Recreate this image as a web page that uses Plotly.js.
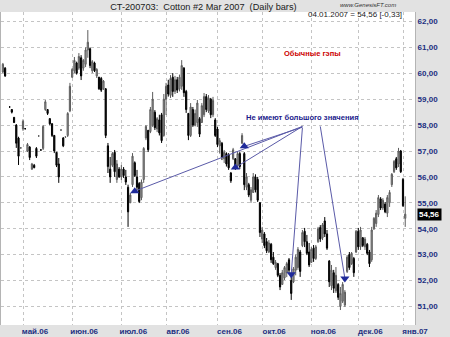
<!DOCTYPE html>
<html><head><meta charset="utf-8">
<script src="https://cdn.plot.ly/plotly-3.0.1.min.js"></script>
<style>html,body{margin:0;padding:0;background:#e2e2e2;}#chart{width:450px;height:337px;}</style>
</head><body><div id="chart"></div>
<script>
const dates = [
'2006-04-18','2006-04-19','2006-04-20','2006-04-21','2006-04-24','2006-04-25','2006-04-26','2006-04-27','2006-04-28',
'2006-05-01','2006-05-02','2006-05-03','2006-05-04','2006-05-05','2006-05-08','2006-05-09','2006-05-10','2006-05-11','2006-05-12','2006-05-15','2006-05-16','2006-05-17','2006-05-18','2006-05-19','2006-05-22','2006-05-23','2006-05-24','2006-05-25','2006-05-26','2006-05-30','2006-05-31',
'2006-06-01','2006-06-02','2006-06-05','2006-06-06','2006-06-07','2006-06-08','2006-06-09','2006-06-12','2006-06-13','2006-06-14','2006-06-15','2006-06-16','2006-06-19','2006-06-20','2006-06-21','2006-06-22','2006-06-23','2006-06-26','2006-06-27','2006-06-28','2006-06-29','2006-06-30',
'2006-07-03','2006-07-05','2006-07-06','2006-07-07','2006-07-10','2006-07-11','2006-07-12','2006-07-13','2006-07-14','2006-07-17','2006-07-18','2006-07-19','2006-07-20','2006-07-21','2006-07-24','2006-07-25','2006-07-26','2006-07-27','2006-07-28','2006-07-31',
'2006-08-01','2006-08-02','2006-08-03','2006-08-04','2006-08-07','2006-08-08','2006-08-09','2006-08-10','2006-08-11','2006-08-14','2006-08-15','2006-08-16','2006-08-17','2006-08-18','2006-08-21','2006-08-22','2006-08-23','2006-08-24','2006-08-25','2006-08-28','2006-08-29','2006-08-30','2006-08-31',
'2006-09-01','2006-09-05','2006-09-06','2006-09-07','2006-09-08','2006-09-11','2006-09-12','2006-09-13','2006-09-14','2006-09-15','2006-09-18','2006-09-19','2006-09-20','2006-09-21','2006-09-22','2006-09-25','2006-09-26','2006-09-27','2006-09-28','2006-09-29',
'2006-10-02','2006-10-03','2006-10-04','2006-10-05','2006-10-06','2006-10-09','2006-10-10','2006-10-11','2006-10-12','2006-10-13','2006-10-16','2006-10-17','2006-10-18','2006-10-19','2006-10-20','2006-10-23','2006-10-24','2006-10-25','2006-10-26','2006-10-27','2006-10-30','2006-10-31',
'2006-11-01','2006-11-02','2006-11-03','2006-11-06','2006-11-07','2006-11-08','2006-11-09','2006-11-10','2006-11-13','2006-11-14','2006-11-15','2006-11-16','2006-11-17','2006-11-20','2006-11-21','2006-11-22','2006-11-24','2006-11-27','2006-11-28','2006-11-29','2006-11-30',
'2006-12-01','2006-12-04','2006-12-05','2006-12-06','2006-12-07','2006-12-08','2006-12-11','2006-12-12','2006-12-13','2006-12-14','2006-12-15','2006-12-18','2006-12-19','2006-12-20','2006-12-21','2006-12-22','2006-12-26','2006-12-27','2006-12-28','2006-12-29',
'2007-01-03','2007-01-04'];

const openPrices = [
60.05,60.20,null,58.70,58.60,58.30,58.00,57.50,57.12,
57.85,57.86,57.00,57.15,56.30,56.45,57.10,57.58,57.04,57.10,58.60,58.60,58.25,58.05,57.60,56.95,56.50,57.81,57.50,57.54,57.60,58.55,
59.85,60.10,60.40,60.20,60.60,60.20,60.35,60.90,60.95,60.10,60.40,59.90,59.85,59.80,59.40,59.40,57.20,56.30,56.45,56.95,55.90,56.30,
56.00,56.30,56.00,55.60,55.00,55.70,56.55,56.00,55.75,55.20,55.90,57.50,57.80,57.75,58.00,58.50,57.85,58.20,58.40,57.60,
59.00,59.55,59.15,59.85,59.30,59.75,59.40,59.50,60.20,59.30,58.45,57.60,58.60,58.00,58.10,58.25,58.10,58.40,59.10,58.55,59.00,58.40,58.20,
57.85,57.20,57.30,56.70,56.90,56.85,56.15,56.70,56.70,56.45,56.90,57.30,56.90,55.60,55.70,55.10,55.40,56.00,55.90,55.00,
53.60,53.80,53.50,53.10,53.40,52.90,52.50,52.65,52.20,51.85,52.10,52.30,52.80,52.00,51.95,52.40,52.50,53.10,53.35,53.90,53.50,53.10,
52.70,53.25,52.85,53.50,54.05,53.65,54.30,53.80,52.75,51.80,52.30,51.60,51.85,51.00,51.20,51.05,52.35,53.00,52.65,52.85,53.10,
53.90,53.30,53.65,53.30,53.40,53.10,52.80,54.00,54.20,54.55,55.15,54.80,54.95,54.60,55.00,55.70,56.20,56.70,56.50,57.00,
55.90,54.40];

const highPrices = [
60.40,60.24,null,58.72,58.62,58.31,58.04,57.55,57.14,
58.22,57.88,57.31,57.19,56.54,56.50,57.15,57.60,57.06,58.00,58.97,58.62,58.27,58.08,57.62,56.96,56.73,57.83,57.54,57.56,58.50,59.63,
60.20,60.63,60.45,60.78,60.70,60.55,61.00,61.67,61.00,60.51,60.45,60.20,59.86,59.86,59.74,59.43,57.31,56.77,56.96,57.04,56.65,56.38,
56.46,56.38,56.27,55.70,55.38,56.92,56.60,56.27,55.80,55.90,57.15,58.00,57.81,58.70,59.28,58.58,58.31,58.40,58.47,59.20,
59.63,59.75,59.93,60.01,59.90,59.86,59.95,60.51,60.24,59.36,58.47,58.85,58.70,58.60,58.97,58.31,58.85,59.24,59.20,59.16,59.05,59.09,58.27,
57.93,57.50,57.35,57.04,56.95,56.92,56.19,57.12,56.73,56.96,56.98,57.69,56.96,56.15,55.77,55.61,56.15,56.10,56.00,55.03,
54.07,53.87,53.64,53.56,53.45,53.10,52.79,52.68,52.29,52.41,52.56,52.72,52.87,52.14,52.52,53.00,53.29,53.18,53.95,54.03,53.76,53.45,
53.29,53.37,53.37,54.07,54.14,54.22,54.45,53.95,52.79,52.60,52.41,52.52,51.90,51.75,51.94,51.63,52.98,53.10,53.10,52.91,53.95,
54.03,54.07,53.68,53.68,53.45,53.18,54.07,54.45,54.72,55.30,55.22,55.18,55.03,55.30,55.49,56.15,56.65,56.77,57.12,57.04,
55.96,55.25];

const lowPrices = [
60.01,59.86,null,58.68,58.45,58.08,57.12,56.46,57.10,
57.78,57.84,56.96,56.65,56.27,56.33,56.73,57.56,57.02,57.04,58.55,58.39,58.00,57.54,56.92,56.38,55.77,57.79,57.15,57.52,57.54,58.50,
59.82,60.01,59.95,60.13,59.74,60.10,60.24,60.60,60.20,60.01,60.05,59.82,59.36,59.28,59.36,57.50,56.15,55.77,56.38,56.00,55.77,55.96,
55.88,55.96,55.69,54.07,54.99,55.61,56.00,55.49,54.99,55.10,55.77,57.42,56.96,57.69,57.93,57.81,57.73,57.60,57.31,57.55,
58.39,59.10,59.05,59.09,59.20,59.24,59.30,59.36,59.09,58.47,57.42,57.54,57.93,57.95,57.93,57.54,58.08,58.31,58.50,58.47,58.27,58.31,57.54,
57.15,56.90,56.65,56.54,56.40,56.27,55.77,56.65,56.27,56.38,56.30,57.27,55.49,55.49,55.22,55.00,55.38,55.40,55.03,53.68,
53.45,53.25,53.06,53.06,52.68,52.60,52.41,52.13,51.63,51.83,52.02,52.13,52.29,51.25,51.90,52.20,52.41,52.14,53.29,53.29,52.98,52.52,
52.68,52.72,52.79,53.45,53.49,53.56,53.68,53.18,51.75,51.63,51.52,51.52,51.25,50.86,51.13,50.98,52.29,52.41,52.60,52.14,53.06,
53.18,53.18,53.29,53.18,52.98,52.52,52.72,53.95,54.07,54.45,54.72,54.72,54.60,54.45,54.84,55.61,56.15,56.27,56.38,56.15,
54.84,54.07];

const closePrices = [
60.35,59.90,null,58.70,58.50,58.10,57.30,56.80,57.12,
58.15,57.86,57.25,56.75,56.50,56.36,56.80,57.58,57.04,57.95,58.90,58.45,58.05,57.60,57.00,56.45,56.00,57.81,57.20,57.54,58.45,59.50,
60.15,60.50,60.00,60.65,59.90,60.50,60.90,61.20,60.30,60.45,60.10,60.15,59.40,59.35,59.70,57.60,56.40,56.00,56.90,56.20,56.50,56.00,
56.30,56.05,55.80,54.65,55.30,56.80,56.05,55.60,55.05,55.80,57.10,57.95,57.05,58.60,59.00,57.90,58.25,57.70,57.40,59.00,
59.50,59.20,59.80,59.30,59.75,59.35,59.85,60.30,59.25,58.60,57.60,58.70,58.00,58.45,58.85,57.65,58.75,59.10,58.60,59.05,58.40,58.95,57.60,
57.25,57.40,56.75,56.95,56.50,56.35,55.85,57.05,56.35,56.90,56.40,57.60,55.70,56.00,55.30,55.50,56.00,55.50,55.10,53.85,
53.95,53.35,53.15,53.45,52.80,52.65,52.70,52.20,51.75,52.30,52.50,52.65,52.40,51.50,52.45,52.90,53.20,52.35,53.85,53.50,53.05,52.60,
53.20,52.85,53.30,54.00,53.60,54.15,53.80,53.25,51.95,52.40,51.70,52.20,51.35,51.50,51.85,51.55,52.90,52.50,53.05,52.30,53.90,
53.30,53.95,53.35,53.60,53.05,52.65,53.95,54.40,54.60,55.20,54.80,55.10,54.65,55.20,55.40,56.10,56.60,56.35,57.00,56.20,
54.89,54.56];

const monthStarts = ['2006-05-01','2006-06-01','2006-07-03','2006-08-01','2006-09-01','2006-10-02','2006-11-01','2006-12-01','2007-01-03'];
const monthLabels = ['май.06','июн.06','июл.06','авг.06','сен.06','окт.06','ноя.06','дек.06','янв.07'];

const gapDates = ['2006-07-12','2006-09-14','2006-09-20','2006-10-19','2006-11-22'];
const gapPrices = [55.45, 56.36, 57.18, 52.24, 52.08];
const gapSymbols = ['triangle-up','triangle-up','triangle-up','triangle-down','triangle-down'];
const noteTailDates = ['2006-10-26','2006-10-26','2006-10-26','2006-10-26','2006-11-07'];
const noteTailPrices = [57.95, 57.95, 57.92, 57.90, 57.95];

const FONT = 'Liberation Sans, Arial, sans-serif';
const NAVY = '#1c2f80';

const lineX = [], lineY = [];
for (let i = 0; i < gapDates.length; i++) {
  lineX.push(noteTailDates[i], gapDates[i], null);
  lineY.push(noteTailPrices[i], gapPrices[i], null);
}

const last = closePrices.length - 1;
const lastClose = closePrices[last];
const change = lastClose - closePrices[last - 1];
const fmt = v => v.toFixed(2).replace('.', ',');
const dp = dates[last].split('-');
const headerText = dp[2] + '.' + dp[1] + '.' + dp[0] + ' = ' + fmt(lastClose) + ' [' + (change < 0 ? '-' : '+') + fmt(Math.abs(change)) + ']';

const traces = [
  {
    type: 'candlestick', x: dates, open: openPrices, high: highPrices, low: lowPrices, close: closePrices,
    increasing: {line: {color: '#5c5c5c', width: 1}, fillcolor: '#a4a4a4'},
    decreasing: {line: {color: '#000000', width: 1}, fillcolor: '#000000'},
    whiskerwidth: 0, hoverinfo: 'skip', showlegend: false
  },
  {
    type: 'scatter', mode: 'lines', x: lineX, y: lineY,
    line: {color: '#5a5aa8', width: 1}, hoverinfo: 'skip', showlegend: false
  },
  {
    type: 'scatter', mode: 'markers', x: gapDates, y: gapPrices,
    marker: {symbol: gapSymbols, size: 8, color: '#1f2a9a', line: {width: 0}},
    hoverinfo: 'skip', showlegend: false
  }
];

const layout = {
  width: 450, height: 337,
  margin: {l: 1, r: 35, t: 12, b: 12, pad: 0},
  paper_bgcolor: '#e2e2e2', plot_bgcolor: '#ffffff',
  separators: ', ',
  font: {family: FONT, size: 8, color: NAVY},
  showlegend: false,
  boxgap: 0.25,
  title: {
    text: 'CT-200703:\u00a0\u00a0Cotton #2 Mar 2007\u00a0\u00a0(Daily bars)',
    font: {family: FONT, size: 9.2, color: '#1a1a1a'},
    x: 0.452, xanchor: 'center', xref: 'container',
    y: 1 - 7/337, yanchor: 'middle', yref: 'container'
  },
  xaxis: {
    type: 'category', range: [-0.84, 184.37],
    rangeslider: {visible: false},
    tickmode: 'array', tickvals: monthStarts, ticktext: monthLabels,
    ticks: '', ticklabelshift: 12,
    tickfont: {family: FONT, size: 8, color: NAVY, weight: 'bold'},
    showgrid: true, gridcolor: '#c4c4c4', griddash: 'dot', gridwidth: 1,
    showline: false, zeroline: false, fixedrange: true
  },
  yaxis: {
    side: 'right', range: [50.282, 62.367],
    tick0: 0, dtick: 1, tickformat: '.2f', ticks: '',
    tickfont: {family: FONT, size: 8, color: NAVY, weight: 'bold'},
    showgrid: true, gridcolor: '#c4c4c4', griddash: 'dot', gridwidth: 1,
    showline: true, mirror: true, linecolor: '#b4b4b4', linewidth: 1,
    zeroline: false, fixedrange: true
  },
  annotations: [
    {xref: 'paper', yref: 'paper', x: (398-1)/414, y: 1 + 7/313, xanchor: 'right', yanchor: 'middle',
     text: 'www.GenesisFT.com', showarrow: false, font: {family: FONT, size: 6, color: '#333333', style: 'italic'}},
    {xref: 'paper', yref: 'paper', x: (404-1)/414, y: 1 - 2.5/313, xanchor: 'right', yanchor: 'middle',
     text: headerText, showarrow: false, font: {family: FONT, size: 8, color: '#1a1a1a'}},
    {xref: 'paper', yref: 'y', x: 1, xanchor: 'left', xshift: 2, y: lastClose, yanchor: 'middle',
     text: fmt(lastClose), showarrow: false, bgcolor: '#000000', borderpad: 1,
     font: {family: FONT, size: 8, color: '#ffffff', weight: 'bold'}},
    {xref: 'paper', yref: 'paper', x: (312-1)/414, y: 1 - (53-12)/313, xanchor: 'center', yanchor: 'middle',
     text: 'Обычные гэпы', showarrow: false, font: {family: FONT, size: 7.5, color: '#cc0000', weight: 'bold'}},
    {xref: 'paper', yref: 'paper', x: (302.5-1)/414, y: 1 - (117.5-12)/313, xanchor: 'center', yanchor: 'middle',
     text: 'Не имеют большого значения', showarrow: false, font: {family: FONT, size: 7.6, color: '#1a1a8c', weight: 'bold'}}
  ]
};

Plotly.newPlot('chart', traces, layout, {displayModeBar: false, staticPlot: true});
</script>
</body></html>
